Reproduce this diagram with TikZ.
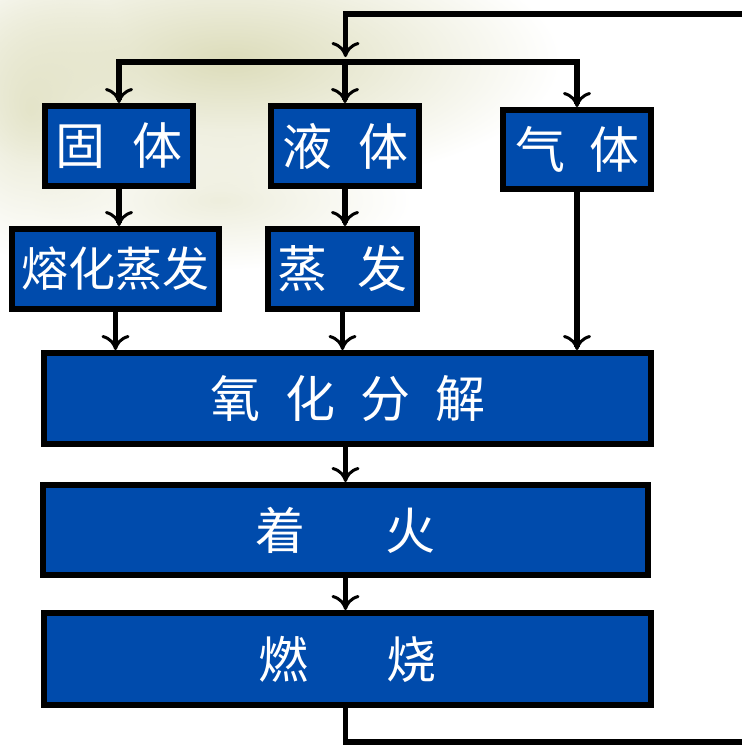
\documentclass[tikz,border=0pt]{standalone}
\usepackage{fontspec}
\newfontfamily\cjk{Noto Sans CJK SC}
\usetikzlibrary{arrows.meta,fadings}
\definecolor{boxblue}{RGB}{0,75,172}
\definecolor{blob}{RGB}{220,220,186}
\tikzfading[name=softblob, inner color=transparent!0, outer color=transparent!100]
\begin{document}
\begin{tikzpicture}[x=1pt,y=-1pt,
  box/.style={draw=black,line width=6pt,fill=boxblue,inner sep=0pt,
    text=white,font=\cjk\fontsize{50}{50}\selectfont},
  link/.style={line width=5.5pt,draw=black},
  arr/.style={link,-{To[length=15pt,width=28pt,line width=3pt]}}]
\useasboundingbox (0,0) rectangle (742,745);
% faint background texture
\fill[blob,path fading=softblob] (230,60) ellipse [x radius=330,y radius=130];
\fill[blob,path fading=softblob,fill opacity=0.7] (30,110) ellipse [x radius=110,y radius=150];
\fill[blob,path fading=softblob,fill opacity=0.5] (220,200) ellipse [x radius=190,y radius=70];
% boxes
\node[box,minimum width=148,minimum height=80] (solid) at (119,146) {固\hspace{27pt}体};
\node[box,minimum width=148,minimum height=80] (liquid) at (345,146) {液\hspace{26pt}体};
\node[box,minimum width=148,minimum height=79] (gas) at (577,149.5) {气\hspace{24pt}体};
\node[box,minimum width=207,minimum height=80,font=\cjk\fontsize{47}{47}\selectfont] (melt) at (115.5,269) {熔化蒸发};
\node[box,minimum width=149,minimum height=80] (evap) at (342.5,269) {蒸\hspace{30pt}发};
\node[box,minimum width=607,minimum height=91] (oxid) at (347.5,398.5) {氧\hspace{25pt}化\hspace{25pt}分\hspace{25pt}解};
\node[box,minimum width=605,minimum height=90] (ign) at (345.5,530) {着\hspace{80pt}火};
\node[box,minimum width=607,minimum height=92] (burn) at (347.5,659) {燃\hspace{78pt}烧};
% feedback loop
\coordinate (tr) at (745,14);
\coordinate (tj) at (345.5,14);
\coordinate (jn) at (345.5,57);
\coordinate (bar) at (0,62);
\coordinate (bl) at (345.5,742);
\coordinate (br) at (745,742);
\draw[arr] (tr) -- (tj) -- (jn);
\draw[link] ([xshift=-2.75pt]solid.north |- bar) -- ([xshift=2.75pt]gas.north |- bar);
\draw[arr] (solid.north |- bar) -- (solid.north);
\draw[arr] (liquid.north |- bar) -- (liquid.north);
\draw[arr] (gas.north |- bar) -- (gas.north);
% downward flow
\draw[arr] (solid.south) -- (solid.south |- melt.north);
\draw[arr] (liquid.south) -- (liquid.south |- evap.north);
\draw[arr] (melt.south) -- (melt.south |- oxid.north);
\draw[arr] (evap.south) -- (evap.south |- oxid.north);
\draw[arr] (gas.south) -- (gas.south |- oxid.north);
\draw[arr] (oxid.south -| jn) -- (ign.north -| jn);
\draw[arr] (ign.south -| jn) -- (burn.north -| jn);
\draw[link] (bl |- burn.south) -- (bl) -- (br);
\end{tikzpicture}
\end{document}
